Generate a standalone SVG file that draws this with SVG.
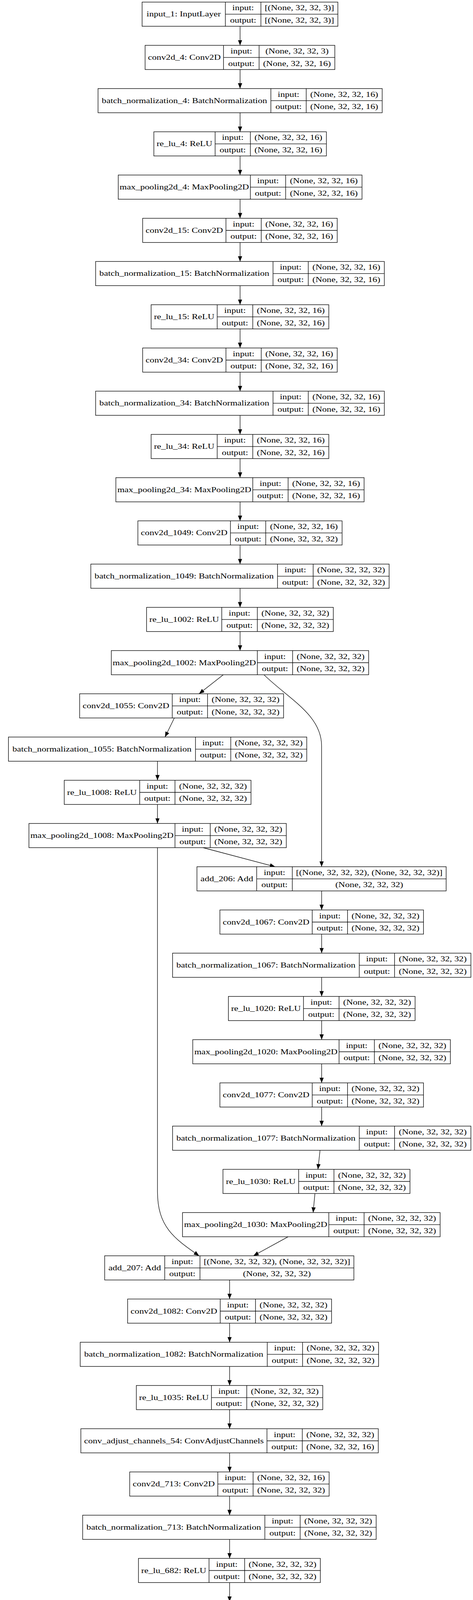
<svg xmlns="http://www.w3.org/2000/svg" width="1211" height="6492" viewBox="0 0 1211 6492">
<style>
.b{fill:#fff;stroke:#000;stroke-width:1.35}
.d{fill:none;stroke:#000;stroke-width:1.35}
text{font-family:"Liberation Serif","Times New Roman",serif;font-size:18px;fill:#000;text-anchor:middle}
.e path{fill:none;stroke:#000;stroke-width:1.3;marker-end:url(#ah)}
</style>
<defs>
<marker id="ah" markerUnits="userSpaceOnUse" markerWidth="15" markerHeight="12" viewBox="0 0 15 12" refX="13.6" refY="5.4" orient="auto"><path d="M0,0L13.6,5.4L0,10.8Z" fill="#000"/></marker>
</defs>
<rect width="1211" height="6492" fill="#fff"/>
<g class="e" id="connectors">
<path d="M614.6,67.3V116.1"/>
<path d="M614.6,178V226.7"/>
<path d="M614.6,288.6V337.4"/>
<path d="M614.6,399.3V448.1"/>
<path d="M614.6,510V558.8"/>
<path d="M614.6,620.7V669.4"/>
<path d="M614.6,731.3V780.1"/>
<path d="M614.6,842V890.8"/>
<path d="M614.6,952.7V1001.4"/>
<path d="M614.6,1063.3V1112.1"/>
<path d="M614.6,1174V1222.8"/>
<path d="M614.6,1284.7V1333.4"/>
<path d="M614.6,1395.3V1444.1"/>
<path d="M614.6,1506V1554.8"/>
<path d="M614.6,1616.7V1665.5"/>
<path d="M571.5,1727.4L509.7,1776.1"/>
<path d="M675.8,1727.4C740,1790 823.4,1830 823.4,1910V2218.8"/>
<path d="M446.4,1838L422.5,1886.8"/>
<path d="M403.2,1948.7V1997.5"/>
<path d="M403.2,2059.4V2108.1"/>
<path d="M519.8,2170L704.4,2218.8"/>
<path d="M403.2,2170V3050C403.2,3140 445,3170 509.7,3214.8"/>
<path d="M823.5,2280.7V2329.5"/>
<path d="M823.5,2391.4V2440.1"/>
<path d="M823.5,2502V2550.8"/>
<path d="M823.5,2612.7V2661.5"/>
<path d="M823.5,2723.4V2772.2"/>
<path d="M823.5,2834.1V2882.8"/>
<path d="M819.4,2944.7L814,2993.5"/>
<path d="M806.3,3055.4L801.7,3104.2"/>
<path d="M737.6,3166.1L648.8,3214.8"/>
<path d="M587.8,3276.7V3325.5"/>
<path d="M587.8,3387.4V3436.2"/>
<path d="M587.8,3498.1V3546.8"/>
<path d="M587.8,3608.7V3657.5"/>
<path d="M587.8,3719.4V3768.2"/>
<path d="M587.8,3830.1V3878.9"/>
<path d="M587.8,3940.8V3989.5"/>
<path d="M587.8,4051.4V4100.2"/>
<path d="M546.8,4162.1L485,4210.9"/>
<path d="M647.2,4162.1C711.4,4224.7 794.3,4264.7 794.3,4344.7V4653.5"/>
<path d="M424.8,4272.8L399.3,4321.5"/>
<path d="M380.8,4383.4V4432.2"/>
<path d="M380.8,4494.1V4542.9"/>
<path d="M495,4604.8L679.6,4653.5"/>
<path d="M380.8,4604.8V5484.7C380.8,5574.7 425,5604.7 485,5649.6"/>
<path d="M794.3,4715.4V4764.2"/>
<path d="M794.3,4826.1V4874.9"/>
<path d="M794.3,4936.8V4985.6"/>
<path d="M794.3,5047.5V5096.2"/>
<path d="M794.3,5158.1V5206.9"/>
<path d="M794.3,5268.8V5317.6"/>
<path d="M789.3,5379.5L785.4,5428.2"/>
<path d="M777,5490.1L771.6,5538.9"/>
<path d="M709,5600.8L621.7,5649.6"/>
<path d="M560.9,5711.5V5760.2"/>
<path d="M560.9,5822.1V5870.9"/>
<path d="M560.9,5932.8V5981.6"/>
<path d="M560.9,6043.5V6092.3"/>
<path d="M560.9,6154.2V6202.9"/>
<path d="M560.9,6264.8V6313.6"/>
<path d="M560.9,6375.5V6424.3"/>
</g>
<g id="input_1" transform="translate(0,5.4)"><rect class="b" x="363.8" width="501.2" height="61.9"/><path class="d" d="M577,0V61.9M668,0V61.9M577,31H865"/><text x="470.4" y="37" textLength="190.2" lengthAdjust="spacingAndGlyphs">input_1: InputLayer</text><text x="622.5" y="21" textLength="55.3" lengthAdjust="spacingAndGlyphs">input:</text><text x="622.5" y="52.5" textLength="67.2" lengthAdjust="spacingAndGlyphs">output:</text><text x="766.5" y="21" textLength="177.7" lengthAdjust="spacingAndGlyphs">[(None, 32, 32, 3)]</text><text x="766.5" y="52.5" textLength="177.7" lengthAdjust="spacingAndGlyphs">[(None, 32, 32, 3)]</text></g>
<g id="conv2d_4" transform="translate(0,116.1)"><rect class="b" x="371.5" width="485.8" height="61.9"/><path class="d" d="M572.3,0V61.9M663.4,0V61.9M572.3,31H857.3"/><text x="471.9" y="37" textLength="186.3" lengthAdjust="spacingAndGlyphs">conv2d_4: Conv2D</text><text x="617.85" y="21" textLength="55.3" lengthAdjust="spacingAndGlyphs">input:</text><text x="617.85" y="52.5" textLength="67.2" lengthAdjust="spacingAndGlyphs">output:</text><text x="760.35" y="21" textLength="161.9" lengthAdjust="spacingAndGlyphs">(None, 32, 32, 3)</text><text x="760.35" y="52.5" textLength="173.8" lengthAdjust="spacingAndGlyphs">(None, 32, 32, 16)</text></g>
<g id="batch_normalization_4" transform="translate(0,226.7)"><rect class="b" x="251" width="727.5" height="61.9"/><path class="d" d="M693.5,0V61.9M784,0V61.9M693.5,31H978.5"/><text x="472.25" y="37" textLength="423.3" lengthAdjust="spacingAndGlyphs">batch_normalization_4: BatchNormalization</text><text x="738.75" y="21" textLength="55.3" lengthAdjust="spacingAndGlyphs">input:</text><text x="738.75" y="52.5" textLength="67.2" lengthAdjust="spacingAndGlyphs">output:</text><text x="881.25" y="21" textLength="173.8" lengthAdjust="spacingAndGlyphs">(None, 32, 32, 16)</text><text x="881.25" y="52.5" textLength="173.8" lengthAdjust="spacingAndGlyphs">(None, 32, 32, 16)</text></g>
<g id="re_lu_4" transform="translate(0,337.4)"><rect class="b" x="393.9" width="441.7" height="61.9"/><path class="d" d="M550.7,0V61.9M641,0V61.9M550.7,31H835.6"/><text x="472.3" y="37" textLength="142.8" lengthAdjust="spacingAndGlyphs">re_lu_4: ReLU</text><text x="595.85" y="21" textLength="55.3" lengthAdjust="spacingAndGlyphs">input:</text><text x="595.85" y="52.5" textLength="67.2" lengthAdjust="spacingAndGlyphs">output:</text><text x="738.3" y="21" textLength="173.8" lengthAdjust="spacingAndGlyphs">(None, 32, 32, 16)</text><text x="738.3" y="52.5" textLength="173.8" lengthAdjust="spacingAndGlyphs">(None, 32, 32, 16)</text></g>
<g id="max_pooling2d_4" transform="translate(0,448.1)"><rect class="b" x="302.7" width="624.1" height="61.9"/><path class="d" d="M641,0V61.9M731.4,0V61.9M641,31H926.8"/><text x="471.85" y="37" textLength="331.2" lengthAdjust="spacingAndGlyphs">max_pooling2d_4: MaxPooling2D</text><text x="686.2" y="21" textLength="55.3" lengthAdjust="spacingAndGlyphs">input:</text><text x="686.2" y="52.5" textLength="67.2" lengthAdjust="spacingAndGlyphs">output:</text><text x="829.1" y="21" textLength="173.8" lengthAdjust="spacingAndGlyphs">(None, 32, 32, 16)</text><text x="829.1" y="52.5" textLength="173.8" lengthAdjust="spacingAndGlyphs">(None, 32, 32, 16)</text></g>
<g id="conv2d_15" transform="translate(0,558.8)"><rect class="b" x="365.3" width="498.1" height="61.9"/><path class="d" d="M578.5,0V61.9M668.8,0V61.9M578.5,31H863.4"/><text x="471.9" y="37" textLength="198.2" lengthAdjust="spacingAndGlyphs">conv2d_15: Conv2D</text><text x="623.65" y="21" textLength="55.3" lengthAdjust="spacingAndGlyphs">input:</text><text x="623.65" y="52.5" textLength="67.2" lengthAdjust="spacingAndGlyphs">output:</text><text x="766.1" y="21" textLength="173.8" lengthAdjust="spacingAndGlyphs">(None, 32, 32, 16)</text><text x="766.1" y="52.5" textLength="173.8" lengthAdjust="spacingAndGlyphs">(None, 32, 32, 16)</text></g>
<g id="batch_normalization_15" transform="translate(0,669.4)"><rect class="b" x="244.8" width="739.2" height="61.9"/><path class="d" d="M699,0V61.9M789.3,0V61.9M699,31H984"/><text x="471.9" y="37" textLength="435.1" lengthAdjust="spacingAndGlyphs">batch_normalization_15: BatchNormalization</text><text x="744.15" y="21" textLength="55.3" lengthAdjust="spacingAndGlyphs">input:</text><text x="744.15" y="52.5" textLength="67.2" lengthAdjust="spacingAndGlyphs">output:</text><text x="886.65" y="21" textLength="173.8" lengthAdjust="spacingAndGlyphs">(None, 32, 32, 16)</text><text x="886.65" y="52.5" textLength="173.8" lengthAdjust="spacingAndGlyphs">(None, 32, 32, 16)</text></g>
<g id="re_lu_15" transform="translate(0,780.1)"><rect class="b" x="386.9" width="454.9" height="61.9"/><path class="d" d="M556.1,0V61.9M647.2,0V61.9M556.1,31H841.8"/><text x="471.5" y="37" textLength="154.7" lengthAdjust="spacingAndGlyphs">re_lu_15: ReLU</text><text x="601.65" y="21" textLength="55.3" lengthAdjust="spacingAndGlyphs">input:</text><text x="601.65" y="52.5" textLength="67.2" lengthAdjust="spacingAndGlyphs">output:</text><text x="744.5" y="21" textLength="173.8" lengthAdjust="spacingAndGlyphs">(None, 32, 32, 16)</text><text x="744.5" y="52.5" textLength="173.8" lengthAdjust="spacingAndGlyphs">(None, 32, 32, 16)</text></g>
<g id="conv2d_34" transform="translate(0,890.8)"><rect class="b" x="365.3" width="498.1" height="61.9"/><path class="d" d="M578.5,0V61.9M668.8,0V61.9M578.5,31H863.4"/><text x="471.9" y="37" textLength="198.2" lengthAdjust="spacingAndGlyphs">conv2d_34: Conv2D</text><text x="623.65" y="21" textLength="55.3" lengthAdjust="spacingAndGlyphs">input:</text><text x="623.65" y="52.5" textLength="67.2" lengthAdjust="spacingAndGlyphs">output:</text><text x="766.1" y="21" textLength="173.8" lengthAdjust="spacingAndGlyphs">(None, 32, 32, 16)</text><text x="766.1" y="52.5" textLength="173.8" lengthAdjust="spacingAndGlyphs">(None, 32, 32, 16)</text></g>
<g id="batch_normalization_34" transform="translate(0,1001.4)"><rect class="b" x="244.8" width="739.2" height="61.9"/><path class="d" d="M699,0V61.9M789.3,0V61.9M699,31H984"/><text x="471.9" y="37" textLength="435.1" lengthAdjust="spacingAndGlyphs">batch_normalization_34: BatchNormalization</text><text x="744.15" y="21" textLength="55.3" lengthAdjust="spacingAndGlyphs">input:</text><text x="744.15" y="52.5" textLength="67.2" lengthAdjust="spacingAndGlyphs">output:</text><text x="886.65" y="21" textLength="173.8" lengthAdjust="spacingAndGlyphs">(None, 32, 32, 16)</text><text x="886.65" y="52.5" textLength="173.8" lengthAdjust="spacingAndGlyphs">(None, 32, 32, 16)</text></g>
<g id="re_lu_34" transform="translate(0,1112.1)"><rect class="b" x="386.9" width="454.9" height="61.9"/><path class="d" d="M556.1,0V61.9M647.2,0V61.9M556.1,31H841.8"/><text x="471.5" y="37" textLength="154.7" lengthAdjust="spacingAndGlyphs">re_lu_34: ReLU</text><text x="601.65" y="21" textLength="55.3" lengthAdjust="spacingAndGlyphs">input:</text><text x="601.65" y="52.5" textLength="67.2" lengthAdjust="spacingAndGlyphs">output:</text><text x="744.5" y="21" textLength="173.8" lengthAdjust="spacingAndGlyphs">(None, 32, 32, 16)</text><text x="744.5" y="52.5" textLength="173.8" lengthAdjust="spacingAndGlyphs">(None, 32, 32, 16)</text></g>
<g id="max_pooling2d_34" transform="translate(0,1222.8)"><rect class="b" x="296.6" width="635.6" height="61.9"/><path class="d" d="M647.2,0V61.9M737.6,0V61.9M647.2,31H932.2"/><text x="471.9" y="37" textLength="343" lengthAdjust="spacingAndGlyphs">max_pooling2d_34: MaxPooling2D</text><text x="692.4" y="21" textLength="55.3" lengthAdjust="spacingAndGlyphs">input:</text><text x="692.4" y="52.5" textLength="67.2" lengthAdjust="spacingAndGlyphs">output:</text><text x="834.9" y="21" textLength="173.8" lengthAdjust="spacingAndGlyphs">(None, 32, 32, 16)</text><text x="834.9" y="52.5" textLength="173.8" lengthAdjust="spacingAndGlyphs">(None, 32, 32, 16)</text></g>
<g id="conv2d_1049" transform="translate(0,1333.4)"><rect class="b" x="353" width="522.8" height="61.9"/><path class="d" d="M590,0V61.9M680.4,0V61.9M590,31H875.8"/><text x="471.5" y="37" textLength="221.9" lengthAdjust="spacingAndGlyphs">conv2d_1049: Conv2D</text><text x="635.2" y="21" textLength="55.3" lengthAdjust="spacingAndGlyphs">input:</text><text x="635.2" y="52.5" textLength="67.2" lengthAdjust="spacingAndGlyphs">output:</text><text x="778.1" y="21" textLength="173.8" lengthAdjust="spacingAndGlyphs">(None, 32, 32, 16)</text><text x="778.1" y="52.5" textLength="173.8" lengthAdjust="spacingAndGlyphs">(None, 32, 32, 32)</text></g>
<g id="batch_normalization_1049" transform="translate(0,1444.1)"><rect class="b" x="232.5" width="763.8" height="61.9"/><path class="d" d="M710.5,0V61.9M801.7,0V61.9M710.5,31H996.3"/><text x="471.5" y="37" textLength="458.8" lengthAdjust="spacingAndGlyphs">batch_normalization_1049: BatchNormalization</text><text x="756.1" y="21" textLength="55.3" lengthAdjust="spacingAndGlyphs">input:</text><text x="756.1" y="52.5" textLength="67.2" lengthAdjust="spacingAndGlyphs">output:</text><text x="899" y="21" textLength="173.8" lengthAdjust="spacingAndGlyphs">(None, 32, 32, 32)</text><text x="899" y="52.5" textLength="173.8" lengthAdjust="spacingAndGlyphs">(None, 32, 32, 32)</text></g>
<g id="re_lu_1002" transform="translate(0,1554.8)"><rect class="b" x="375.3" width="478.1" height="61.9"/><path class="d" d="M567.7,0V61.9M658.8,0V61.9M567.7,31H853.4"/><text x="471.5" y="37" textLength="178.4" lengthAdjust="spacingAndGlyphs">re_lu_1002: ReLU</text><text x="613.25" y="21" textLength="55.3" lengthAdjust="spacingAndGlyphs">input:</text><text x="613.25" y="52.5" textLength="67.2" lengthAdjust="spacingAndGlyphs">output:</text><text x="756.1" y="21" textLength="173.8" lengthAdjust="spacingAndGlyphs">(None, 32, 32, 32)</text><text x="756.1" y="52.5" textLength="173.8" lengthAdjust="spacingAndGlyphs">(None, 32, 32, 32)</text></g>
<g id="max_pooling2d_1002" transform="translate(0,1665.5)"><rect class="b" x="285" width="658.8" height="61.9"/><path class="d" d="M658.8,0V61.9M749.2,0V61.9M658.8,31H943.8"/><text x="471.9" y="37" textLength="366.7" lengthAdjust="spacingAndGlyphs">max_pooling2d_1002: MaxPooling2D</text><text x="704" y="21" textLength="55.3" lengthAdjust="spacingAndGlyphs">input:</text><text x="704" y="52.5" textLength="67.2" lengthAdjust="spacingAndGlyphs">output:</text><text x="846.5" y="21" textLength="173.8" lengthAdjust="spacingAndGlyphs">(None, 32, 32, 32)</text><text x="846.5" y="52.5" textLength="173.8" lengthAdjust="spacingAndGlyphs">(None, 32, 32, 32)</text></g>
<g id="conv2d_1055" transform="translate(0,1776.1)"><rect class="b" x="203.9" width="522.1" height="61.9"/><path class="d" d="M441,0V61.9M531.4,0V61.9M441,31H726"/><text x="322.45" y="37" textLength="221.9" lengthAdjust="spacingAndGlyphs">conv2d_1055: Conv2D</text><text x="486.2" y="21" textLength="55.3" lengthAdjust="spacingAndGlyphs">input:</text><text x="486.2" y="52.5" textLength="67.2" lengthAdjust="spacingAndGlyphs">output:</text><text x="628.7" y="21" textLength="173.8" lengthAdjust="spacingAndGlyphs">(None, 32, 32, 32)</text><text x="628.7" y="52.5" textLength="173.8" lengthAdjust="spacingAndGlyphs">(None, 32, 32, 32)</text></g>
<g id="batch_normalization_1055" transform="translate(0,1886.8)"><rect class="b" x="21.6" width="763.8" height="61.9"/><path class="d" d="M500.5,0V61.9M590.8,0V61.9M500.5,31H785.4"/><text x="261.05" y="37" textLength="458.8" lengthAdjust="spacingAndGlyphs">batch_normalization_1055: BatchNormalization</text><text x="545.65" y="21" textLength="55.3" lengthAdjust="spacingAndGlyphs">input:</text><text x="545.65" y="52.5" textLength="67.2" lengthAdjust="spacingAndGlyphs">output:</text><text x="688.1" y="21" textLength="173.8" lengthAdjust="spacingAndGlyphs">(None, 32, 32, 32)</text><text x="688.1" y="52.5" textLength="173.8" lengthAdjust="spacingAndGlyphs">(None, 32, 32, 32)</text></g>
<g id="re_lu_1008" transform="translate(0,1997.5)"><rect class="b" x="164.5" width="478.1" height="61.9"/><path class="d" d="M357.6,0V61.9M448,0V61.9M357.6,31H642.6"/><text x="261.05" y="37" textLength="178.4" lengthAdjust="spacingAndGlyphs">re_lu_1008: ReLU</text><text x="402.8" y="21" textLength="55.3" lengthAdjust="spacingAndGlyphs">input:</text><text x="402.8" y="52.5" textLength="67.2" lengthAdjust="spacingAndGlyphs">output:</text><text x="545.3" y="21" textLength="173.8" lengthAdjust="spacingAndGlyphs">(None, 32, 32, 32)</text><text x="545.3" y="52.5" textLength="173.8" lengthAdjust="spacingAndGlyphs">(None, 32, 32, 32)</text></g>
<g id="max_pooling2d_1008" transform="translate(0,2108.1)"><rect class="b" x="74.1" width="658.9" height="61.9"/><path class="d" d="M448,0V61.9M538.3,0V61.9M448,31H733"/><text x="261.05" y="37" textLength="366.7" lengthAdjust="spacingAndGlyphs">max_pooling2d_1008: MaxPooling2D</text><text x="493.15" y="21" textLength="55.3" lengthAdjust="spacingAndGlyphs">input:</text><text x="493.15" y="52.5" textLength="67.2" lengthAdjust="spacingAndGlyphs">output:</text><text x="635.65" y="21" textLength="173.8" lengthAdjust="spacingAndGlyphs">(None, 32, 32, 32)</text><text x="635.65" y="52.5" textLength="173.8" lengthAdjust="spacingAndGlyphs">(None, 32, 32, 32)</text></g>
<g id="add_206" transform="translate(0,2218.8)"><rect class="b" x="504.3" width="638" height="61.9"/><path class="d" d="M657.2,0V61.9M748.4,0V61.9M657.2,31H1142.3"/><text x="580.75" y="37" textLength="134.9" lengthAdjust="spacingAndGlyphs">add_206: Add</text><text x="702.8" y="21" textLength="55.3" lengthAdjust="spacingAndGlyphs">input:</text><text x="702.8" y="52.5" textLength="67.2" lengthAdjust="spacingAndGlyphs">output:</text><text x="945.35" y="21" textLength="375.2" lengthAdjust="spacingAndGlyphs">[(None, 32, 32, 32), (None, 32, 32, 32)]</text><text x="945.35" y="52.5" textLength="173.8" lengthAdjust="spacingAndGlyphs">(None, 32, 32, 32)</text></g>
<g id="conv2d_1067" transform="translate(0,2329.5)"><rect class="b" x="563" width="521.3" height="61.9"/><path class="d" d="M799.4,0V61.9M889.7,0V61.9M799.4,31H1084.3"/><text x="681.2" y="37" textLength="221.9" lengthAdjust="spacingAndGlyphs">conv2d_1067: Conv2D</text><text x="844.55" y="21" textLength="55.3" lengthAdjust="spacingAndGlyphs">input:</text><text x="844.55" y="52.5" textLength="67.2" lengthAdjust="spacingAndGlyphs">output:</text><text x="987" y="21" textLength="173.8" lengthAdjust="spacingAndGlyphs">(None, 32, 32, 32)</text><text x="987" y="52.5" textLength="173.8" lengthAdjust="spacingAndGlyphs">(None, 32, 32, 32)</text></g>
<g id="batch_normalization_1067" transform="translate(0,2440.1)"><rect class="b" x="441.8" width="763.8" height="61.9"/><path class="d" d="M919.8,0V61.9M1010.2,0V61.9M919.8,31H1205.6"/><text x="680.8" y="37" textLength="458.8" lengthAdjust="spacingAndGlyphs">batch_normalization_1067: BatchNormalization</text><text x="965" y="21" textLength="55.3" lengthAdjust="spacingAndGlyphs">input:</text><text x="965" y="52.5" textLength="67.2" lengthAdjust="spacingAndGlyphs">output:</text><text x="1107.9" y="21" textLength="173.8" lengthAdjust="spacingAndGlyphs">(None, 32, 32, 32)</text><text x="1107.9" y="52.5" textLength="173.8" lengthAdjust="spacingAndGlyphs">(None, 32, 32, 32)</text></g>
<g id="re_lu_1020" transform="translate(0,2550.8)"><rect class="b" x="584.7" width="478" height="61.9"/><path class="d" d="M777,0V61.9M868.1,0V61.9M777,31H1062.7"/><text x="680.85" y="37" textLength="178.4" lengthAdjust="spacingAndGlyphs">re_lu_1020: ReLU</text><text x="822.55" y="21" textLength="55.3" lengthAdjust="spacingAndGlyphs">input:</text><text x="822.55" y="52.5" textLength="67.2" lengthAdjust="spacingAndGlyphs">output:</text><text x="965.4" y="21" textLength="173.8" lengthAdjust="spacingAndGlyphs">(None, 32, 32, 32)</text><text x="965.4" y="52.5" textLength="173.8" lengthAdjust="spacingAndGlyphs">(None, 32, 32, 32)</text></g>
<g id="max_pooling2d_1020" transform="translate(0,2661.5)"><rect class="b" x="493.5" width="659.6" height="61.9"/><path class="d" d="M868.1,0V61.9M958.5,0V61.9M868.1,31H1153.1"/><text x="680.8" y="37" textLength="366.7" lengthAdjust="spacingAndGlyphs">max_pooling2d_1020: MaxPooling2D</text><text x="913.3" y="21" textLength="55.3" lengthAdjust="spacingAndGlyphs">input:</text><text x="913.3" y="52.5" textLength="67.2" lengthAdjust="spacingAndGlyphs">output:</text><text x="1055.8" y="21" textLength="173.8" lengthAdjust="spacingAndGlyphs">(None, 32, 32, 32)</text><text x="1055.8" y="52.5" textLength="173.8" lengthAdjust="spacingAndGlyphs">(None, 32, 32, 32)</text></g>
<g id="conv2d_1077" transform="translate(0,2772.2)"><rect class="b" x="563" width="521.3" height="61.9"/><path class="d" d="M799.4,0V61.9M889.7,0V61.9M799.4,31H1084.3"/><text x="681.2" y="37" textLength="221.9" lengthAdjust="spacingAndGlyphs">conv2d_1077: Conv2D</text><text x="844.55" y="21" textLength="55.3" lengthAdjust="spacingAndGlyphs">input:</text><text x="844.55" y="52.5" textLength="67.2" lengthAdjust="spacingAndGlyphs">output:</text><text x="987" y="21" textLength="173.8" lengthAdjust="spacingAndGlyphs">(None, 32, 32, 32)</text><text x="987" y="52.5" textLength="173.8" lengthAdjust="spacingAndGlyphs">(None, 32, 32, 32)</text></g>
<g id="batch_normalization_1077" transform="translate(0,2882.8)"><rect class="b" x="441.8" width="763.8" height="61.9"/><path class="d" d="M919.8,0V61.9M1010.2,0V61.9M919.8,31H1205.6"/><text x="680.8" y="37" textLength="458.8" lengthAdjust="spacingAndGlyphs">batch_normalization_1077: BatchNormalization</text><text x="965" y="21" textLength="55.3" lengthAdjust="spacingAndGlyphs">input:</text><text x="965" y="52.5" textLength="67.2" lengthAdjust="spacingAndGlyphs">output:</text><text x="1107.9" y="21" textLength="173.8" lengthAdjust="spacingAndGlyphs">(None, 32, 32, 32)</text><text x="1107.9" y="52.5" textLength="173.8" lengthAdjust="spacingAndGlyphs">(None, 32, 32, 32)</text></g>
<g id="re_lu_1030" transform="translate(0,2993.5)"><rect class="b" x="570.8" width="478.8" height="61.9"/><path class="d" d="M764.6,0V61.9M855,0V61.9M764.6,31H1049.6"/><text x="667.7" y="37" textLength="178.4" lengthAdjust="spacingAndGlyphs">re_lu_1030: ReLU</text><text x="809.8" y="21" textLength="55.3" lengthAdjust="spacingAndGlyphs">input:</text><text x="809.8" y="52.5" textLength="67.2" lengthAdjust="spacingAndGlyphs">output:</text><text x="952.3" y="21" textLength="173.8" lengthAdjust="spacingAndGlyphs">(None, 32, 32, 32)</text><text x="952.3" y="52.5" textLength="173.8" lengthAdjust="spacingAndGlyphs">(None, 32, 32, 32)</text></g>
<g id="max_pooling2d_1030" transform="translate(0,3104.2)"><rect class="b" x="467.3" width="659.5" height="61.9"/><path class="d" d="M841.8,0V61.9M932.2,0V61.9M841.8,31H1126.8"/><text x="654.55" y="37" textLength="366.7" lengthAdjust="spacingAndGlyphs">max_pooling2d_1030: MaxPooling2D</text><text x="887" y="21" textLength="55.3" lengthAdjust="spacingAndGlyphs">input:</text><text x="887" y="52.5" textLength="67.2" lengthAdjust="spacingAndGlyphs">output:</text><text x="1029.5" y="21" textLength="173.8" lengthAdjust="spacingAndGlyphs">(None, 32, 32, 32)</text><text x="1029.5" y="52.5" textLength="173.8" lengthAdjust="spacingAndGlyphs">(None, 32, 32, 32)</text></g>
<g id="add_207" transform="translate(0,3214.8)"><rect class="b" x="268" width="638" height="61.9"/><path class="d" d="M421.7,0V61.9M512,0V61.9M421.7,31H906"/><text x="344.85" y="37" textLength="134.9" lengthAdjust="spacingAndGlyphs">add_207: Add</text><text x="466.85" y="21" textLength="55.3" lengthAdjust="spacingAndGlyphs">input:</text><text x="466.85" y="52.5" textLength="67.2" lengthAdjust="spacingAndGlyphs">output:</text><text x="709" y="21" textLength="375.2" lengthAdjust="spacingAndGlyphs">[(None, 32, 32, 32), (None, 32, 32, 32)]</text><text x="709" y="52.5" textLength="173.8" lengthAdjust="spacingAndGlyphs">(None, 32, 32, 32)</text></g>
<g id="conv2d_1082" transform="translate(0,3325.5)"><rect class="b" x="326.7" width="522.1" height="61.9"/><path class="d" d="M563.8,0V61.9M654.2,0V61.9M563.8,31H848.8"/><text x="445.25" y="37" textLength="221.9" lengthAdjust="spacingAndGlyphs">conv2d_1082: Conv2D</text><text x="609" y="21" textLength="55.3" lengthAdjust="spacingAndGlyphs">input:</text><text x="609" y="52.5" textLength="67.2" lengthAdjust="spacingAndGlyphs">output:</text><text x="751.5" y="21" textLength="173.8" lengthAdjust="spacingAndGlyphs">(None, 32, 32, 32)</text><text x="751.5" y="52.5" textLength="173.8" lengthAdjust="spacingAndGlyphs">(None, 32, 32, 32)</text></g>
<g id="batch_normalization_1082" transform="translate(0,3436.2)"><rect class="b" x="205.4" width="763.9" height="61.9"/><path class="d" d="M684.3,0V61.9M774.6,0V61.9M684.3,31H969.3"/><text x="444.85" y="37" textLength="458.8" lengthAdjust="spacingAndGlyphs">batch_normalization_1082: BatchNormalization</text><text x="729.45" y="21" textLength="55.3" lengthAdjust="spacingAndGlyphs">input:</text><text x="729.45" y="52.5" textLength="67.2" lengthAdjust="spacingAndGlyphs">output:</text><text x="871.95" y="21" textLength="173.8" lengthAdjust="spacingAndGlyphs">(None, 32, 32, 32)</text><text x="871.95" y="52.5" textLength="173.8" lengthAdjust="spacingAndGlyphs">(None, 32, 32, 32)</text></g>
<g id="re_lu_1035" transform="translate(0,3546.8)"><rect class="b" x="349.1" width="477.3" height="61.9"/><path class="d" d="M541.4,0V61.9M631.7,0V61.9M541.4,31H826.4"/><text x="445.25" y="37" textLength="178.4" lengthAdjust="spacingAndGlyphs">re_lu_1035: ReLU</text><text x="586.55" y="21" textLength="55.3" lengthAdjust="spacingAndGlyphs">input:</text><text x="586.55" y="52.5" textLength="67.2" lengthAdjust="spacingAndGlyphs">output:</text><text x="729.05" y="21" textLength="173.8" lengthAdjust="spacingAndGlyphs">(None, 32, 32, 32)</text><text x="729.05" y="52.5" textLength="173.8" lengthAdjust="spacingAndGlyphs">(None, 32, 32, 32)</text></g>
<g id="conv_adjust_channels_54" transform="translate(0,3657.5)"><rect class="b" x="207" width="761.5" height="61.9"/><path class="d" d="M683.5,0V61.9M773.9,0V61.9M683.5,31H968.5"/><text x="445.25" y="37" textLength="460.2" lengthAdjust="spacingAndGlyphs">conv_adjust_channels_54: ConvAdjustChannels</text><text x="728.7" y="21" textLength="55.3" lengthAdjust="spacingAndGlyphs">input:</text><text x="728.7" y="52.5" textLength="67.2" lengthAdjust="spacingAndGlyphs">output:</text><text x="871.2" y="21" textLength="173.8" lengthAdjust="spacingAndGlyphs">(None, 32, 32, 32)</text><text x="871.2" y="52.5" textLength="173.8" lengthAdjust="spacingAndGlyphs">(None, 32, 32, 16)</text></g>
<g id="conv2d_713" transform="translate(0,3768.2)"><rect class="b" x="332.1" width="510.5" height="61.9"/><path class="d" d="M557.6,0V61.9M648,0V61.9M557.6,31H842.6"/><text x="444.85" y="37" textLength="210" lengthAdjust="spacingAndGlyphs">conv2d_713: Conv2D</text><text x="602.8" y="21" textLength="55.3" lengthAdjust="spacingAndGlyphs">input:</text><text x="602.8" y="52.5" textLength="67.2" lengthAdjust="spacingAndGlyphs">output:</text><text x="745.3" y="21" textLength="173.8" lengthAdjust="spacingAndGlyphs">(None, 32, 32, 16)</text><text x="745.3" y="52.5" textLength="173.8" lengthAdjust="spacingAndGlyphs">(None, 32, 32, 32)</text></g>
<g id="batch_normalization_713" transform="translate(0,3878.9)"><rect class="b" x="211.6" width="751.5" height="61.9"/><path class="d" d="M678.1,0V61.9M768.5,0V61.9M678.1,31H963.1"/><text x="444.85" y="37" textLength="447" lengthAdjust="spacingAndGlyphs">batch_normalization_713: BatchNormalization</text><text x="723.3" y="21" textLength="55.3" lengthAdjust="spacingAndGlyphs">input:</text><text x="723.3" y="52.5" textLength="67.2" lengthAdjust="spacingAndGlyphs">output:</text><text x="865.8" y="21" textLength="173.8" lengthAdjust="spacingAndGlyphs">(None, 32, 32, 32)</text><text x="865.8" y="52.5" textLength="173.8" lengthAdjust="spacingAndGlyphs">(None, 32, 32, 32)</text></g>
<g id="re_lu_682" transform="translate(0,3989.5)"><rect class="b" x="354.5" width="465.7" height="61.9"/><path class="d" d="M535.2,0V61.9M626.4,0V61.9M535.2,31H820.2"/><text x="444.85" y="37" textLength="166.5" lengthAdjust="spacingAndGlyphs">re_lu_682: ReLU</text><text x="580.8" y="21" textLength="55.3" lengthAdjust="spacingAndGlyphs">input:</text><text x="580.8" y="52.5" textLength="67.2" lengthAdjust="spacingAndGlyphs">output:</text><text x="723.3" y="21" textLength="173.8" lengthAdjust="spacingAndGlyphs">(None, 32, 32, 32)</text><text x="723.3" y="52.5" textLength="173.8" lengthAdjust="spacingAndGlyphs">(None, 32, 32, 32)</text></g>
<g id="max_pooling2d_682" transform="translate(0,4100.2)"><rect class="b" x="264.1" width="647.2" height="61.9"/><path class="d" d="M626.4,0V61.9M716.7,0V61.9M626.4,31H911.3"/><text x="445.25" y="37" textLength="354.9" lengthAdjust="spacingAndGlyphs">max_pooling2d_682: MaxPooling2D</text><text x="671.55" y="21" textLength="55.3" lengthAdjust="spacingAndGlyphs">input:</text><text x="671.55" y="52.5" textLength="67.2" lengthAdjust="spacingAndGlyphs">output:</text><text x="814" y="21" textLength="173.8" lengthAdjust="spacingAndGlyphs">(None, 32, 32, 32)</text><text x="814" y="52.5" textLength="173.8" lengthAdjust="spacingAndGlyphs">(None, 32, 32, 32)</text></g>
<g id="conv2d_719" transform="translate(0,4210.9)"><rect class="b" x="186.9" width="510.5" height="61.9"/><path class="d" d="M412.4,0V61.9M502.8,0V61.9M412.4,31H697.4"/><text x="299.65" y="37" textLength="210" lengthAdjust="spacingAndGlyphs">conv2d_719: Conv2D</text><text x="457.6" y="21" textLength="55.3" lengthAdjust="spacingAndGlyphs">input:</text><text x="457.6" y="52.5" textLength="67.2" lengthAdjust="spacingAndGlyphs">output:</text><text x="600.1" y="21" textLength="173.8" lengthAdjust="spacingAndGlyphs">(None, 32, 32, 32)</text><text x="600.1" y="52.5" textLength="173.8" lengthAdjust="spacingAndGlyphs">(None, 32, 32, 32)</text></g>
<g id="batch_normalization_719" transform="translate(0,4321.5)"><rect class="b" x="5.4" width="751.5" height="61.9"/><path class="d" d="M471.1,0V61.9M562.3,0V61.9M471.1,31H756.9"/><text x="238.25" y="37" textLength="447" lengthAdjust="spacingAndGlyphs">batch_normalization_719: BatchNormalization</text><text x="516.7" y="21" textLength="55.3" lengthAdjust="spacingAndGlyphs">input:</text><text x="516.7" y="52.5" textLength="67.2" lengthAdjust="spacingAndGlyphs">output:</text><text x="659.6" y="21" textLength="173.8" lengthAdjust="spacingAndGlyphs">(None, 32, 32, 32)</text><text x="659.6" y="52.5" textLength="173.8" lengthAdjust="spacingAndGlyphs">(None, 32, 32, 32)</text></g>
<g id="re_lu_688" transform="translate(0,4432.2)"><rect class="b" x="147.5" width="466.5" height="61.9"/><path class="d" d="M329,0V61.9M419.4,0V61.9M329,31H614"/><text x="238.25" y="37" textLength="166.5" lengthAdjust="spacingAndGlyphs">re_lu_688: ReLU</text><text x="374.2" y="21" textLength="55.3" lengthAdjust="spacingAndGlyphs">input:</text><text x="374.2" y="52.5" textLength="67.2" lengthAdjust="spacingAndGlyphs">output:</text><text x="516.7" y="21" textLength="173.8" lengthAdjust="spacingAndGlyphs">(None, 32, 32, 32)</text><text x="516.7" y="52.5" textLength="173.8" lengthAdjust="spacingAndGlyphs">(None, 32, 32, 32)</text></g>
<g id="max_pooling2d_688" transform="translate(0,4542.9)"><rect class="b" x="57.2" width="647.2" height="61.9"/><path class="d" d="M419.4,0V61.9M509.7,0V61.9M419.4,31H704.4"/><text x="238.3" y="37" textLength="354.9" lengthAdjust="spacingAndGlyphs">max_pooling2d_688: MaxPooling2D</text><text x="464.55" y="21" textLength="55.3" lengthAdjust="spacingAndGlyphs">input:</text><text x="464.55" y="52.5" textLength="67.2" lengthAdjust="spacingAndGlyphs">output:</text><text x="607.05" y="21" textLength="173.8" lengthAdjust="spacingAndGlyphs">(None, 32, 32, 32)</text><text x="607.05" y="52.5" textLength="173.8" lengthAdjust="spacingAndGlyphs">(None, 32, 32, 32)</text></g>
<g id="add_208" transform="translate(0,4653.5)"><rect class="b" x="475" width="638.7" height="61.9"/><path class="d" d="M628.7,0V61.9M719,0V61.9M628.7,31H1113.7"/><text x="551.85" y="37" textLength="134.9" lengthAdjust="spacingAndGlyphs">add_208: Add</text><text x="673.85" y="21" textLength="55.3" lengthAdjust="spacingAndGlyphs">input:</text><text x="673.85" y="52.5" textLength="67.2" lengthAdjust="spacingAndGlyphs">output:</text><text x="916.35" y="21" textLength="375.2" lengthAdjust="spacingAndGlyphs">[(None, 32, 32, 32), (None, 32, 32, 32)]</text><text x="916.35" y="52.5" textLength="173.8" lengthAdjust="spacingAndGlyphs">(None, 32, 32, 32)</text></g>
<g id="conv2d_731" transform="translate(0,4764.2)"><rect class="b" x="539.1" width="510.5" height="61.9"/><path class="d" d="M764.6,0V61.9M855,0V61.9M764.6,31H1049.6"/><text x="651.85" y="37" textLength="210" lengthAdjust="spacingAndGlyphs">conv2d_731: Conv2D</text><text x="809.8" y="21" textLength="55.3" lengthAdjust="spacingAndGlyphs">input:</text><text x="809.8" y="52.5" textLength="67.2" lengthAdjust="spacingAndGlyphs">output:</text><text x="952.3" y="21" textLength="173.8" lengthAdjust="spacingAndGlyphs">(None, 32, 32, 32)</text><text x="952.3" y="52.5" textLength="173.8" lengthAdjust="spacingAndGlyphs">(None, 32, 32, 32)</text></g>
<g id="batch_normalization_731" transform="translate(0,4874.9)"><rect class="b" x="418.6" width="751.5" height="61.9"/><path class="d" d="M885.1,0V61.9M975.4,0V61.9M885.1,31H1170.1"/><text x="651.85" y="37" textLength="447" lengthAdjust="spacingAndGlyphs">batch_normalization_731: BatchNormalization</text><text x="930.25" y="21" textLength="55.3" lengthAdjust="spacingAndGlyphs">input:</text><text x="930.25" y="52.5" textLength="67.2" lengthAdjust="spacingAndGlyphs">output:</text><text x="1072.75" y="21" textLength="173.8" lengthAdjust="spacingAndGlyphs">(None, 32, 32, 32)</text><text x="1072.75" y="52.5" textLength="173.8" lengthAdjust="spacingAndGlyphs">(None, 32, 32, 32)</text></g>
<g id="re_lu_700" transform="translate(0,4985.6)"><rect class="b" x="561.5" width="465.7" height="61.9"/><path class="d" d="M742.2,0V61.9M832.6,0V61.9M742.2,31H1027.2"/><text x="651.85" y="37" textLength="166.5" lengthAdjust="spacingAndGlyphs">re_lu_700: ReLU</text><text x="787.4" y="21" textLength="55.3" lengthAdjust="spacingAndGlyphs">input:</text><text x="787.4" y="52.5" textLength="67.2" lengthAdjust="spacingAndGlyphs">output:</text><text x="929.9" y="21" textLength="173.8" lengthAdjust="spacingAndGlyphs">(None, 32, 32, 32)</text><text x="929.9" y="52.5" textLength="173.8" lengthAdjust="spacingAndGlyphs">(None, 32, 32, 32)</text></g>
<g id="max_pooling2d_700" transform="translate(0,5096.2)"><rect class="b" x="471.1" width="647.2" height="61.9"/><path class="d" d="M832.6,0V61.9M923.7,0V61.9M832.6,31H1118.3"/><text x="651.85" y="37" textLength="354.9" lengthAdjust="spacingAndGlyphs">max_pooling2d_700: MaxPooling2D</text><text x="878.15" y="21" textLength="55.3" lengthAdjust="spacingAndGlyphs">input:</text><text x="878.15" y="52.5" textLength="67.2" lengthAdjust="spacingAndGlyphs">output:</text><text x="1021" y="21" textLength="173.8" lengthAdjust="spacingAndGlyphs">(None, 32, 32, 32)</text><text x="1021" y="52.5" textLength="173.8" lengthAdjust="spacingAndGlyphs">(None, 32, 32, 32)</text></g>
<g id="conv2d_739" transform="translate(0,5206.9)"><rect class="b" x="539.1" width="510.5" height="61.9"/><path class="d" d="M764.6,0V61.9M855,0V61.9M764.6,31H1049.6"/><text x="651.85" y="37" textLength="210" lengthAdjust="spacingAndGlyphs">conv2d_739: Conv2D</text><text x="809.8" y="21" textLength="55.3" lengthAdjust="spacingAndGlyphs">input:</text><text x="809.8" y="52.5" textLength="67.2" lengthAdjust="spacingAndGlyphs">output:</text><text x="952.3" y="21" textLength="173.8" lengthAdjust="spacingAndGlyphs">(None, 32, 32, 32)</text><text x="952.3" y="52.5" textLength="173.8" lengthAdjust="spacingAndGlyphs">(None, 32, 32, 32)</text></g>
<g id="batch_normalization_739" transform="translate(0,5317.6)"><rect class="b" x="418.6" width="751.5" height="61.9"/><path class="d" d="M885.1,0V61.9M975.4,0V61.9M885.1,31H1170.1"/><text x="651.85" y="37" textLength="447" lengthAdjust="spacingAndGlyphs">batch_normalization_739: BatchNormalization</text><text x="930.25" y="21" textLength="55.3" lengthAdjust="spacingAndGlyphs">input:</text><text x="930.25" y="52.5" textLength="67.2" lengthAdjust="spacingAndGlyphs">output:</text><text x="1072.75" y="21" textLength="173.8" lengthAdjust="spacingAndGlyphs">(None, 32, 32, 32)</text><text x="1072.75" y="52.5" textLength="173.8" lengthAdjust="spacingAndGlyphs">(None, 32, 32, 32)</text></g>
<g id="re_lu_708" transform="translate(0,5428.2)"><rect class="b" x="547.6" width="466.5" height="61.9"/><path class="d" d="M729.1,0V61.9M819.4,0V61.9M729.1,31H1014.1"/><text x="638.35" y="37" textLength="166.5" lengthAdjust="spacingAndGlyphs">re_lu_708: ReLU</text><text x="774.25" y="21" textLength="55.3" lengthAdjust="spacingAndGlyphs">input:</text><text x="774.25" y="52.5" textLength="67.2" lengthAdjust="spacingAndGlyphs">output:</text><text x="916.75" y="21" textLength="173.8" lengthAdjust="spacingAndGlyphs">(None, 32, 32, 32)</text><text x="916.75" y="52.5" textLength="173.8" lengthAdjust="spacingAndGlyphs">(None, 32, 32, 32)</text></g>
<g id="max_pooling2d_708" transform="translate(0,5538.9)"><rect class="b" x="444.1" width="647.2" height="61.9"/><path class="d" d="M806.3,0V61.9M896.7,0V61.9M806.3,31H1091.3"/><text x="625.2" y="37" textLength="354.9" lengthAdjust="spacingAndGlyphs">max_pooling2d_708: MaxPooling2D</text><text x="851.5" y="21" textLength="55.3" lengthAdjust="spacingAndGlyphs">input:</text><text x="851.5" y="52.5" textLength="67.2" lengthAdjust="spacingAndGlyphs">output:</text><text x="994" y="21" textLength="173.8" lengthAdjust="spacingAndGlyphs">(None, 32, 32, 32)</text><text x="994" y="52.5" textLength="173.8" lengthAdjust="spacingAndGlyphs">(None, 32, 32, 32)</text></g>
<g id="add_209" transform="translate(0,5649.6)"><rect class="b" x="241.7" width="638" height="61.9"/><path class="d" d="M394.7,0V61.9M485.8,0V61.9M394.7,31H879.7"/><text x="318.2" y="37" textLength="134.9" lengthAdjust="spacingAndGlyphs">add_209: Add</text><text x="440.25" y="21" textLength="55.3" lengthAdjust="spacingAndGlyphs">input:</text><text x="440.25" y="52.5" textLength="67.2" lengthAdjust="spacingAndGlyphs">output:</text><text x="682.75" y="21" textLength="375.2" lengthAdjust="spacingAndGlyphs">[(None, 32, 32, 32), (None, 32, 32, 32)]</text><text x="682.75" y="52.5" textLength="173.8" lengthAdjust="spacingAndGlyphs">(None, 32, 32, 32)</text></g>
<g id="conv2d_749" transform="translate(0,5760.2)"><rect class="b" x="305.8" width="510.5" height="61.9"/><path class="d" d="M530.6,0V61.9M621.7,0V61.9M530.6,31H816.3"/><text x="418.2" y="37" textLength="210" lengthAdjust="spacingAndGlyphs">conv2d_749: Conv2D</text><text x="576.15" y="21" textLength="55.3" lengthAdjust="spacingAndGlyphs">input:</text><text x="576.15" y="52.5" textLength="67.2" lengthAdjust="spacingAndGlyphs">output:</text><text x="719" y="21" textLength="173.8" lengthAdjust="spacingAndGlyphs">(None, 32, 32, 32)</text><text x="719" y="52.5" textLength="173.8" lengthAdjust="spacingAndGlyphs">(None, 32, 32, 32)</text></g>
<g id="batch_normalization_749" transform="translate(0,5870.9)"><rect class="b" x="185.4" width="751.4" height="61.9"/><path class="d" d="M651.8,0V61.9M742.2,0V61.9M651.8,31H936.8"/><text x="418.6" y="37" textLength="447" lengthAdjust="spacingAndGlyphs">batch_normalization_749: BatchNormalization</text><text x="697" y="21" textLength="55.3" lengthAdjust="spacingAndGlyphs">input:</text><text x="697" y="52.5" textLength="67.2" lengthAdjust="spacingAndGlyphs">output:</text><text x="839.5" y="21" textLength="173.8" lengthAdjust="spacingAndGlyphs">(None, 32, 32, 32)</text><text x="839.5" y="52.5" textLength="173.8" lengthAdjust="spacingAndGlyphs">(None, 32, 32, 32)</text></g>
<g id="re_lu_718" transform="translate(0,5981.6)"><rect class="b" x="328.2" width="465.8" height="61.9"/><path class="d" d="M509,0V61.9M599.3,0V61.9M509,31H794"/><text x="418.6" y="37" textLength="166.5" lengthAdjust="spacingAndGlyphs">re_lu_718: ReLU</text><text x="554.15" y="21" textLength="55.3" lengthAdjust="spacingAndGlyphs">input:</text><text x="554.15" y="52.5" textLength="67.2" lengthAdjust="spacingAndGlyphs">output:</text><text x="696.65" y="21" textLength="173.8" lengthAdjust="spacingAndGlyphs">(None, 32, 32, 32)</text><text x="696.65" y="52.5" textLength="173.8" lengthAdjust="spacingAndGlyphs">(None, 32, 32, 32)</text></g>
<g id="max_pooling2d_718" transform="translate(0,6092.3)"><rect class="b" x="237.1" width="647.2" height="61.9"/><path class="d" d="M599.3,0V61.9M689.7,0V61.9M599.3,31H884.3"/><text x="418.2" y="37" textLength="354.9" lengthAdjust="spacingAndGlyphs">max_pooling2d_718: MaxPooling2D</text><text x="644.5" y="21" textLength="55.3" lengthAdjust="spacingAndGlyphs">input:</text><text x="644.5" y="52.5" textLength="67.2" lengthAdjust="spacingAndGlyphs">output:</text><text x="787" y="21" textLength="173.8" lengthAdjust="spacingAndGlyphs">(None, 32, 32, 32)</text><text x="787" y="52.5" textLength="173.8" lengthAdjust="spacingAndGlyphs">(None, 32, 32, 32)</text></g>
<g id="flatten_271" transform="translate(0,6202.9)"><rect class="b" x="312.8" width="496.6" height="61.9"/><path class="d" d="M523.6,0V61.9M614.8,0V61.9M523.6,31H809.4"/><text x="418.2" y="37" textLength="186.3" lengthAdjust="spacingAndGlyphs">flatten_271: Flatten</text><text x="569.2" y="21" textLength="55.3" lengthAdjust="spacingAndGlyphs">input:</text><text x="569.2" y="52.5" textLength="67.2" lengthAdjust="spacingAndGlyphs">output:</text><text x="712.1" y="21" textLength="173.8" lengthAdjust="spacingAndGlyphs">(None, 32, 32, 32)</text><text x="712.1" y="52.5" textLength="138.2" lengthAdjust="spacingAndGlyphs">(None, 32768)</text></g>
<g id="dense_542" transform="translate(0,6313.6)"><rect class="b" x="339" width="443.4" height="61.9"/><path class="d" d="M532.9,0V61.9M624,0V61.9M532.9,31H782.4"/><text x="435.95" y="37" textLength="173.1" lengthAdjust="spacingAndGlyphs">dense_542: Dense</text><text x="578.45" y="21" textLength="55.3" lengthAdjust="spacingAndGlyphs">input:</text><text x="578.45" y="52.5" textLength="67.2" lengthAdjust="spacingAndGlyphs">output:</text><text x="703.2" y="21" textLength="138.2" lengthAdjust="spacingAndGlyphs">(None, 32768)</text><text x="703.2" y="52.5" textLength="114.5" lengthAdjust="spacingAndGlyphs">(None, 256)</text></g>
<g id="dense_543" transform="translate(0,6424.3)"><rect class="b" x="351.4" width="419.4" height="61.9"/><path class="d" d="M545.3,0V61.9M635.6,0V61.9M545.3,31H770.8"/><text x="448.35" y="37" textLength="173.1" lengthAdjust="spacingAndGlyphs">dense_543: Dense</text><text x="590.45" y="21" textLength="55.3" lengthAdjust="spacingAndGlyphs">input:</text><text x="590.45" y="52.5" textLength="67.2" lengthAdjust="spacingAndGlyphs">output:</text><text x="703.2" y="21" textLength="114.5" lengthAdjust="spacingAndGlyphs">(None, 256)</text><text x="703.2" y="52.5" textLength="102.7" lengthAdjust="spacingAndGlyphs">(None, 10)</text></g>
</svg>
